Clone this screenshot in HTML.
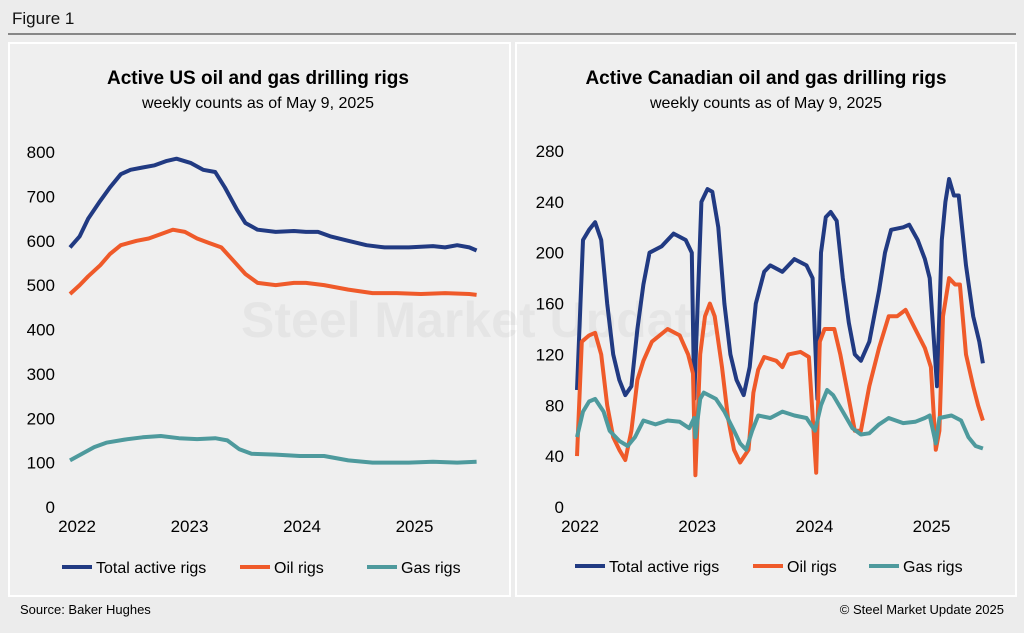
<!DOCTYPE html>
<html><head><meta charset="utf-8"><style>
body{margin:0;width:1024px;height:633px;background:#ececec;font-family:"Liberation Sans",Arial,sans-serif;overflow:hidden}
svg{position:absolute;left:0;top:0}
</style></head><body>
<svg width="1024" height="633">
<rect x="0" y="0" width="1024" height="633" fill="#ececec"/>
<text x="12" y="24" font-size="17" fill="#111">Figure 1</text>
<line x1="8" y1="34" x2="1016" y2="34" stroke="#222" stroke-width="1"/>
<rect x="9" y="43" width="501" height="553" fill="#efefef" stroke="#fff" stroke-width="2"/>
<rect x="516" y="43" width="500" height="553" fill="#efefef" stroke="#fff" stroke-width="2"/>
<text x="258" y="84" font-size="19" font-weight="bold" text-anchor="middle">Active US oil and gas drilling rigs</text>
<text x="258" y="108" font-size="16" text-anchor="middle">weekly counts as of May 9, 2025</text>
<text x="766" y="84" font-size="19" font-weight="bold" text-anchor="middle">Active Canadian oil and gas drilling rigs</text>
<text x="766" y="108" font-size="16" text-anchor="middle">weekly counts as of May 9, 2025</text>
<text x="480" y="337" font-size="50" font-weight="bold" fill="#000" opacity="0.035" text-anchor="middle">Steel Market Update</text>
<g id="us"></g>
<g id="ca"></g>
<text x="20" y="614" font-size="13">Source: Baker Hughes</text>
<text x="1004" y="614" font-size="13" text-anchor="end">© Steel Market Update 2025</text>
</svg>
<script>
const yearLabels=["2022","2023","2024","2025"];
const usTicks=[0,100,200,300,400,500,600,700,800];
const caTicks=[0,40,80,120,160,200,240,280];
const seriesNames=["Total active rigs","Oil rigs","Gas rigs"];
const usTotalT=[0,.08,.15,.25,.33,.42,.5,.6,.7,.8,.88,1,1.1,1.2,1.28,1.38,1.45,1.55,1.7,1.85,1.95,2.05,2.15,2.3,2.45,2.6,2.8,3,3.1,3.2,3.3,3.36];
const usTotalV=[585,610,650,690,720,750,760,765,770,780,785,775,760,755,720,670,640,625,620,622,620,620,610,600,590,585,585,588,585,590,585,578];
const usOilT=[0,.08,.15,.25,.33,.42,.55,.65,.75,.85,.95,1.05,1.15,1.25,1.35,1.45,1.55,1.7,1.85,1.95,2.1,2.3,2.5,2.7,2.9,3.1,3.3,3.36];
const usOilV=[480,500,520,545,570,590,600,605,615,625,620,605,595,585,555,525,505,500,505,505,500,490,482,482,480,482,480,478];
const usGasT=[0,.1,.2,.3,.45,.6,.75,.9,1.05,1.2,1.3,1.4,1.5,1.7,1.9,2.1,2.3,2.5,2.8,3,3.2,3.36];
const usGasV=[105,120,135,145,152,157,160,155,153,155,150,130,120,118,115,115,105,100,100,102,100,102];
const caTotalT=[0,.05,.1,.15,.2,.25,.3,.35,.4,.45,.5,.55,.6,.7,.8,.9,.95,.97,1.03,1.08,1.12,1.17,1.22,1.27,1.32,1.38,1.43,1.48,1.55,1.6,1.7,1.8,1.9,1.95,1.99,2.02,2.06,2.1,2.15,2.2,2.25,2.3,2.35,2.42,2.5,2.55,2.6,2.7,2.75,2.82,2.88,2.92,2.98,3.02,3.05,3.08,3.12,3.16,3.22,3.28,3.33,3.36];
const caTotalV=[92,210,218,224,210,160,120,100,88,95,140,175,200,205,215,210,200,85,240,250,248,220,160,120,100,88,110,160,185,190,185,195,190,180,85,200,228,232,225,180,145,120,115,130,170,200,218,220,222,210,195,180,95,210,240,258,245,245,190,150,130,113];
const caOilT=[0,.04,.1,.15,.2,.25,.3,.35,.4,.45,.5,.55,.62,.75,.85,.92,.96,.98,1.02,1.06,1.1,1.14,1.2,1.25,1.3,1.35,1.42,1.46,1.5,1.55,1.65,1.7,1.75,1.85,1.92,1.98,2.01,2.05,2.13,2.18,2.25,2.3,2.35,2.42,2.5,2.58,2.65,2.72,2.8,2.88,2.93,2.97,3,3.03,3.08,3.13,3.17,3.22,3.28,3.32,3.36];
const caOilV=[40,130,135,137,120,80,55,45,37,60,100,115,130,140,135,120,105,25,120,150,160,150,110,70,45,35,45,90,108,118,115,110,120,122,118,27,130,140,140,120,85,60,60,95,125,150,150,155,140,125,110,45,60,150,180,175,175,120,95,80,68];
const caGasT=[0,.05,.1,.15,.22,.27,.35,.42,.48,.55,.65,.75,.85,.93,.97,.98,1.02,1.05,1.15,1.22,1.3,1.35,1.4,1.45,1.5,1.6,1.7,1.8,1.9,1.97,2.02,2.07,2.12,2.2,2.28,2.35,2.42,2.5,2.58,2.7,2.8,2.88,2.92,2.97,3,3.1,3.18,3.24,3.3,3.36];
const caGasV=[55,75,83,85,75,60,52,48,55,68,65,68,67,62,70,55,85,90,85,75,60,50,45,60,72,70,75,72,70,60,80,92,88,75,62,57,58,65,70,66,67,70,72,50,70,72,68,55,48,46];
const colors=["#213a82","#ef5a2a","#4e9a9d"];
const NS="http://www.w3.org/2000/svg";
function mk(tag,attrs,parent){const e=document.createElementNS(NS,tag);for(const k in attrs)e.setAttribute(k,attrs[k]);parent.appendChild(e);return e;}
function chart(g,cfg){
  const x=t=>cfg.x0+cfg.xs*t, y=v=>cfg.y0-(v/cfg.max)*(cfg.y0-cfg.y1);
  const lx=i=>cfg.l0+cfg.ls*i;
  cfg.ticks.forEach(v=>{const t=mk("text",{x:cfg.tx,y:y(v)+6,"font-size":17,"text-anchor":"end"},g);t.textContent=v;
    
    });
  yearLabels.forEach((l,i)=>{const t=mk("text",{x:lx(i),y:cfg.y0+25,"font-size":17,"text-anchor":"middle"},g);t.textContent=l;
    
    });
  cfg.series.forEach((s,i)=>{
    const p=mk("polyline",{points:s[0].map((t,j)=>x(t).toFixed(1)+","+y(s[1][j]).toFixed(1)).join(" "),fill:"none",stroke:colors[i],"stroke-width":4,"stroke-linejoin":"round"},g);
    
    
  });
  cfg.legend.forEach((lxx,i)=>{
    const l=mk("line",{x1:lxx,x2:lxx+30,y1:cfg.ly,y2:cfg.ly,stroke:colors[i],"stroke-width":4},g);
    
    
    const t=mk("text",{x:lxx+34,y:cfg.ly+6,"font-size":16},g);t.textContent=seriesNames[i];
    
    
  });
}
chart(document.getElementById("us"),{x0:70,xs:121,l0:77,ls:112.5,y0:507,y1:152,max:800,ticks:usTicks,tx:55,ly:567,legend:[62,240,367],
  series:[[usTotalT,usTotalV],[usOilT,usOilV],[usGasT,usGasV]]});
chart(document.getElementById("ca"),{x0:577,xs:120.8,l0:580,ls:117.2,y0:507,y1:151,max:280,ticks:caTicks,tx:564,ly:566,legend:[575,753,869],
  series:[[caTotalT,caTotalV],[caOilT,caOilV],[caGasT,caGasV]]});
</script>
</body></html>
